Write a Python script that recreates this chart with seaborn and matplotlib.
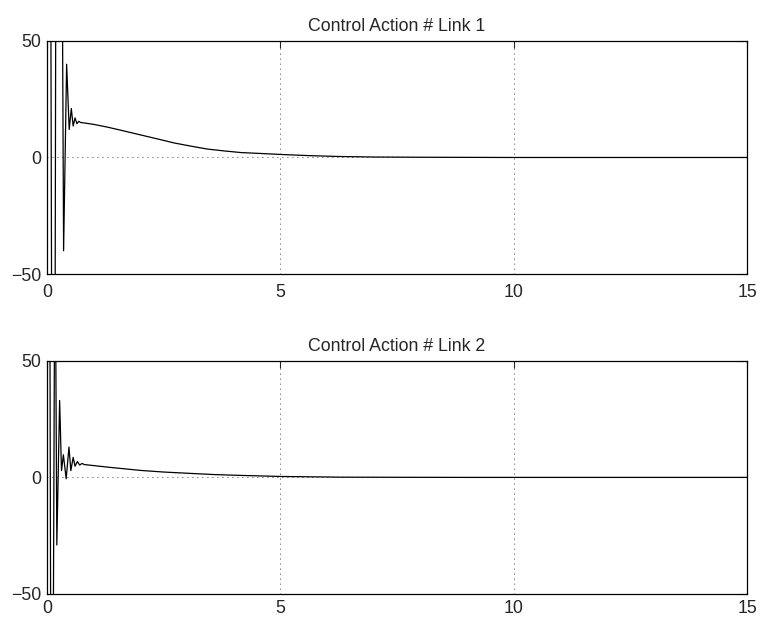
import pandas as pd
import numpy as np
import matplotlib
matplotlib.use("Agg")
import matplotlib.pyplot as plt
import seaborn as sns

# values (time in s, control action)
t_link1 = [0.0, 0.04, 0.14, 0.22, 0.31, 0.355, 0.42, 0.475, 0.52, 0.56, 0.60, 0.64,
           0.68, 0.72, 0.80, 1.0, 1.3, 1.6, 2.0, 2.4, 2.73, 3.1, 3.44, 3.8, 4.16,
           4.6, 5.0, 5.6, 6.3, 7.0, 8.0, 10.0, 12.0, 15.0]
u_link1 = [0.0, 400, -400, 400, 150, -40, 40, 12, 21, 13.5, 17, 14.5,
           15.5, 15, 14.8, 14.2, 13.0, 11.6, 9.7, 7.8, 6.2, 4.8, 3.6, 2.8, 2.1,
           1.7, 1.3, 0.8, 0.4, 0.2, 0.1, 0.0, 0.0, 0.0]

t_link2 = [0.0, 0.04, 0.10, 0.17, 0.21, 0.27, 0.31, 0.35, 0.41, 0.47, 0.51, 0.56,
           0.60, 0.65, 0.70, 0.75, 0.80, 0.94, 1.3, 1.6, 2.0, 2.5, 3.09, 3.6,
           4.16, 5.0, 6.3, 7.5, 9.0, 12.0, 15.0]
u_link2 = [0.0, 250, -250, 120, -29, 33, 2.9, 9.7, -0.6, 13, 2.9, 8.6,
           4.8, 6.8, 5.3, 6.0, 5.5, 5.2, 4.4, 3.8, 3.0, 2.3, 1.7, 1.2,
           0.85, 0.4, 0.1, 0.05, 0.0, 0.0, 0.0]

titles = ["Control Action # Link 1", "Control Action # Link 2"]
x_ticks = [0, 5, 10, 15]
y_ticks = [-50, 0, 50]

sns.set_style("white")
plt.rcParams['font.family'] = ['Liberation Sans', 'DejaVu Sans']

fig = plt.figure(figsize=(7.61, 6.2), dpi=100)
ax1 = fig.add_axes([0.0618, 0.558, 0.92, 0.376])
ax2 = fig.add_axes([0.0618, 0.042, 0.92, 0.376])

series = [(t_link1, u_link1), (t_link2, u_link2)]
for ax, (t, u), title in zip([ax1, ax2], series, titles):
    df = pd.DataFrame({'time': t, 'u': u})
    sns.lineplot(data=df, x='time', y='u', ax=ax, color='black', linewidth=0.9,
                 estimator=None, sort=False)
    ax.set_xlim(0, 15)
    ax.set_ylim(-50, 50)
    ax.set_xticks(x_ticks)
    ax.set_yticks(y_ticks)
    ax.set_xticklabels([str(v) for v in x_ticks])
    ax.set_yticklabels(['\u221250', '0', '50'])
    ax.set_xlabel('')
    ax.set_ylabel('')
    ax.set_title(title, fontsize=12.8, pad=7)
    ax.grid(True, color='black', linestyle=(0, (1, 5)), linewidth=0.6)
    ax.tick_params(direction='in', length=5, width=0.8, labelsize=12.8,
                   top=True, right=True)
    ax.tick_params(axis='y', pad=4)
    for sp in ax.spines.values():
        sp.set_visible(True)
        sp.set_color('black')
        sp.set_linewidth(0.9)

ax1.tick_params(axis='x', pad=7)
ax2.tick_params(axis='x', pad=4.5)

fig.savefig('out.png', dpi=100, facecolor='white')
